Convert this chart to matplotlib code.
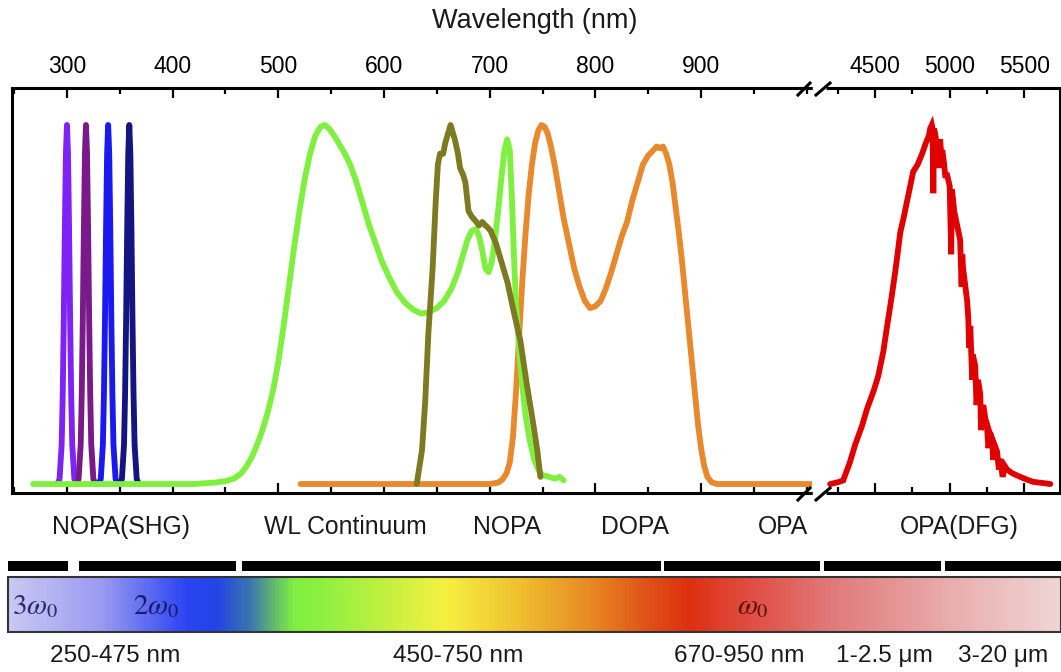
import matplotlib
matplotlib.use("Agg")
import matplotlib.pyplot as plt
import numpy as np
from matplotlib.colors import LinearSegmentedColormap
from matplotlib.ticker import MultipleLocator, FixedLocator

plt.rcParams['font.family'] = ['Liberation Sans', 'DejaVu Sans']
plt.rcParams['mathtext.fontset'] = 'stix'

# ---------------- data ----------------
shg_int = [0.0, 0.014, 0.11, 0.25, 0.46, 0.71, 0.92, 1.0, 0.92, 0.71, 0.46, 0.25, 0.11, 0.014, 0.0]
shg1_nm = [291, 293, 295, 296, 297, 298, 299, 300, 301, 302, 303, 304, 305, 307, 309]
shg2_nm = [309, 311, 313, 314, 315, 316, 317, 318, 319, 320, 321, 322, 323, 325, 327]
shg3_nm = [330, 332, 334, 335, 336, 337, 338, 339, 340, 341, 342, 343, 344, 346, 348]
shg4_nm = [350, 352, 354, 355, 356, 357, 358, 359, 360, 361, 362, 363, 364, 366, 368]

wl_nm = [268, 420, 440, 450, 458, 465, 470, 475, 480, 485, 490, 495, 500, 505, 510, 515, 520,
         525, 530, 535, 540, 544, 548, 553, 558, 563, 568, 574, 580, 586, 592, 598, 605, 612,
         620, 628, 635, 642, 650, 657, 664, 670, 675, 679, 683, 687, 690, 693, 696, 699, 702,
         705, 708, 711, 714, 716.5, 719, 721, 723, 725, 728, 731, 734, 738, 742, 746, 750, 756,
         762, 766, 770]
wl_int = [0.0, 0.0, 0.004, 0.008, 0.015, 0.03, 0.05, 0.075, 0.11, 0.15, 0.20, 0.26, 0.34, 0.44,
          0.55, 0.66, 0.76, 0.85, 0.92, 0.97, 0.995, 1.0, 0.99, 0.97, 0.945, 0.92, 0.89, 0.84,
          0.78, 0.72, 0.67, 0.62, 0.575, 0.535, 0.505, 0.485, 0.475, 0.478, 0.49, 0.51, 0.545,
          0.59, 0.64, 0.68, 0.705, 0.71, 0.69, 0.65, 0.60, 0.59, 0.62, 0.68, 0.76, 0.85, 0.93,
          0.96, 0.93, 0.80, 0.63, 0.50, 0.37, 0.27, 0.19, 0.12, 0.07, 0.04, 0.025, 0.02, 0.015,
          0.02, 0.01]

nopa_nm = [631, 636, 639, 642, 646, 649, 651, 653, 656, 658, 660, 663, 665, 667, 670, 672, 675,
           677, 680, 683, 686, 690, 693, 696, 698, 701, 703, 706, 710, 713, 717, 722, 729, 735,
           740, 745, 748]
nopa_int = [0.0, 0.095, 0.23, 0.42, 0.60, 0.79, 0.89, 0.92, 0.92, 0.95, 0.97, 1.0, 0.98, 0.96,
            0.92, 0.88, 0.86, 0.84, 0.76, 0.745, 0.735, 0.72, 0.73, 0.72, 0.715, 0.705, 0.69,
            0.67, 0.63, 0.60, 0.56, 0.49, 0.40, 0.28, 0.19, 0.095, 0.02]

dopa_nm = [521, 700, 708, 712, 716, 719, 722, 725, 728, 731, 734, 737, 740, 743, 746, 749, 752,
           755, 758, 762, 766, 770, 775, 780, 785, 790, 795, 800, 805, 810, 815, 820, 825, 830,
           835, 840, 845, 850, 855, 858, 861, 864, 867, 870, 873, 876, 879, 882, 885, 888, 891,
           894, 897, 900, 903, 906, 910, 915, 1005]
dopa_int = [0.0, 0.0, 0.004, 0.012, 0.03, 0.06, 0.13, 0.26, 0.42, 0.57, 0.70, 0.81, 0.89, 0.95,
            0.985, 1.0, 0.995, 0.975, 0.94, 0.88, 0.81, 0.74, 0.67, 0.60, 0.55, 0.51, 0.49,
            0.495, 0.51, 0.545, 0.59, 0.64, 0.69, 0.73, 0.79, 0.84, 0.89, 0.915, 0.93, 0.94,
            0.935, 0.94, 0.92, 0.89, 0.84, 0.77, 0.70, 0.62, 0.53, 0.44, 0.35, 0.26, 0.17, 0.10,
            0.05, 0.02, 0.005, 0.0, 0.0]

dfg_nm = [4198, 4250, 4285, 4330, 4366, 4410, 4446, 4490, 4520, 4555, 4580, 4610, 4634, 4650,
          4668, 4690, 4715, 4735, 4755, 4785, 4815, 4840, 4860, 4869, 4880, 4885, 4890, 4895,
          4905, 4915, 4925, 4930, 4936, 4945, 4950, 4960, 4970, 4983, 5000, 5010, 5015, 5023,
          5030, 5045, 5060, 5070, 5080, 5084, 5090, 5105, 5117, 5125, 5130, 5138, 5151, 5155,
          5171, 5180, 5190, 5205, 5210, 5225, 5240, 5250, 5260, 5270, 5285, 5292, 5300, 5318,
          5330, 5340, 5355, 5370, 5386, 5420, 5473, 5520, 5560, 5620, 5675]
dfg_int = [0.0, 0.005, 0.01, 0.06, 0.11, 0.16, 0.21, 0.26, 0.30, 0.37, 0.44, 0.52, 0.59, 0.64,
           0.70, 0.74, 0.79, 0.83, 0.87, 0.89, 0.92, 0.95, 0.97, 0.99, 1.0, 0.99, 0.81, 0.99,
           0.97, 0.93, 0.96, 0.88, 0.96, 0.90, 0.93, 0.90, 0.86, 0.86, 0.83, 0.64, 0.82, 0.79,
           0.76, 0.73, 0.70, 0.68, 0.55, 0.64, 0.60, 0.55, 0.51, 0.46, 0.38, 0.44, 0.29, 0.36,
           0.33, 0.22, 0.29, 0.25, 0.15, 0.22, 0.18, 0.16, 0.10, 0.14, 0.12, 0.067, 0.11, 0.09,
           0.04, 0.07, 0.02, 0.05, 0.04, 0.03, 0.02, 0.012, 0.006, 0.003, 0.0]

top_labels = ['NOPA(SHG)', 'WL Continuum', 'NOPA', 'DOPA', 'OPA', 'OPA(DFG)']
range_labels = ['250-475 nm', '450-750 nm', '670-950 nm', '1-2.5 \u03bcm', '3-20 \u03bcm']
left_ticks = [300, 400, 500, 600, 700, 800, 900]
right_ticks = [4500, 5000, 5500]

# ---------------- figure ----------------
W, H = 1061, 672
fig = plt.figure(figsize=(W / 100, H / 100), dpi=100)

def px_rect(x0, x1, ytop, ybot):
    return [x0 / W, 1 - ybot / H, (x1 - x0) / W, (ybot - ytop) / H]

ax1 = fig.add_axes(px_rect(12, 812, 88, 493))
ax2 = fig.add_axes(px_rect(826, 1060, 88, 493))

lw = 4.2
kw = dict(lw=lw, solid_capstyle='round', solid_joinstyle='round')
ax1.plot(dopa_nm, dopa_int, color='#e8892e', **kw)
ax1.plot(shg1_nm, shg_int, color='#7f22f5', **kw)
ax1.plot(shg2_nm, shg_int, color='#7a1a8a', **kw)
ax1.plot(shg3_nm, shg_int, color='#1a1af0', **kw)
ax1.plot(shg4_nm, shg_int, color='#141482', **kw)
ax1.plot(wl_nm, wl_int, color='#80f040', **kw)
ax1.plot(nopa_nm, nopa_int, color='#7d7a22', **kw)
ax2.plot(dfg_nm, dfg_int, color='#e00000', lw=lw, solid_capstyle='round', solid_joinstyle='miter')

ax1.set_xlim(248, 1005)
ax2.set_xlim(4170, 5740)
for ax in (ax1, ax2):
    ax.set_ylim(-0.025, 1.103)
    ax.set_yticks([])
    for s in ax.spines.values():
        s.set_linewidth(2.2)
    ax.tick_params(axis='x', which='both', direction='in', top=True, bottom=True,
                   labeltop=True, labelbottom=False, labelsize=16.5, pad=7, width=1.6)
    ax.tick_params(axis='x', which='major', length=7)
    ax.tick_params(axis='x', which='minor', length=4)

ax1.spines['right'].set_visible(False)
ax2.spines['left'].set_visible(False)
ax1.xaxis.set_major_locator(FixedLocator(left_ticks))
ax1.xaxis.set_minor_locator(MultipleLocator(50))
ax2.xaxis.set_major_locator(FixedLocator(right_ticks))
ax2.xaxis.set_minor_locator(MultipleLocator(250))

# ---------------- overlay in pixel coordinates ----------------
ov2 = fig.add_axes([0, 0, 1, 1], zorder=5)
ov2.set_xlim(0, W)
ov2.set_ylim(H, 0)
ov2.axis('off')
ov2.patch.set_alpha(0)

# break marks
for yy in (88, 493):
    ov2.plot([812, 826], [yy, yy], color='white', lw=5, solid_capstyle='butt')
    ov2.plot([798, 810], [yy + 7, yy - 5], color='black', lw=2.2)
    ov2.plot([816, 830], [yy + 7, yy - 5], color='black', lw=2.2)
    ov2.plot([800, 812], [yy, yy], color='black', lw=2.2, solid_capstyle='butt')

ov2.text(535, 21, 'Wavelength (nm)', ha='center', va='center', fontsize=19.5, color='#1a1a1a')

for lab, xc in zip(top_labels, [121, 345, 507, 635, 783, 959]):
    ov2.text(xc, 527, lab, ha='center', va='center', fontsize=17.8, color='#1a1a1a')

for x0, x1 in [(8, 68), (79, 236), (242, 661), (664, 820), (824, 941), (945, 1061)]:
    ov2.add_patch(plt.Rectangle((x0, 561), x1 - x0, 10, color='black', lw=0))

stops = [(8, '#c8c8f4'), (100, '#9a9af0'), (185, '#2a44f2'), (215, '#2444e6'),
         (248, '#3a74b0'), (292, '#80ee40'), (320, '#8cf040'), (380, '#c0f040'),
         (445, '#f6f040'), (520, '#f0c030'), (590, '#e88a24'), (650, '#e05018'),
         (690, '#de3010'), (745, '#e04a3e'), (830, '#e07878'), (960, '#eab0b0'),
         (1061, '#f0d4d4')]
pos = [(s[0] - 8) / (1061 - 8) for s in stops]
cmap = LinearSegmentedColormap.from_list('spec', list(zip(pos, [s[1] for s in stops])))
grad = np.linspace(0, 1, 800).reshape(1, -1)
ov2.imshow(grad, cmap=cmap, aspect='auto', extent=[8, 1061, 632, 577], zorder=1)
ov2.add_patch(plt.Rectangle((8, 577), 1053, 55, fill=False, ec='#333333', lw=1.5, zorder=2))

ov2.text(12, 606, r'$3\omega_0$', ha='left', va='center', fontsize=21, color='#2a2a70', zorder=3)
ov2.text(133, 606, r'$2\omega_0$', ha='left', va='center', fontsize=21, color='#1a1a70', zorder=3)
ov2.text(737, 606, r'$\omega_0$', ha='left', va='center', fontsize=21, color='#601010', zorder=3)

for lab, xc in zip(range_labels, [115, 458, 739, 884, 1003]):
    ov2.text(xc, 656, lab, ha='center', va='center', fontsize=17.6, color='#1a1a1a')
ov2.set_xlim(0, W)
ov2.set_ylim(H, 0)

fig.savefig('out.png', dpi=100)
